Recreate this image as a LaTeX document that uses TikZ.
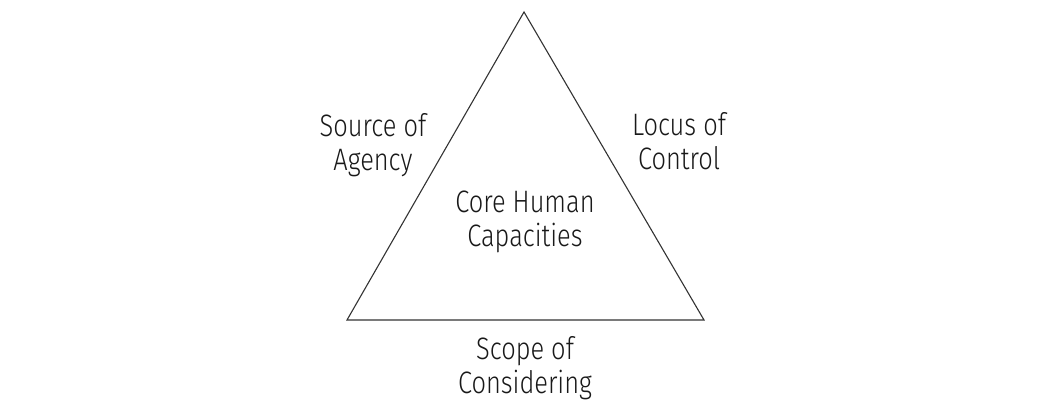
\documentclass[tikz,border=0pt]{standalone}
\usepackage{fontspec}
\setmainfont{Fira Sans Light}[FakeStretch=0.82]
\begin{document}
\begin{tikzpicture}[x=1pt,y=1pt,
  lbl/.style={align=center,inner sep=0pt,font=\fontsize{31}{34}\selectfont,anchor=base,text=black!90}]
\useasboundingbox[fill=white] (0,0) rectangle (1050,419);
\coordinate (top) at (524,407);
\coordinate (bl) at (347,99);
\coordinate (br) at (704,99);
\draw[line width=1.1pt,black!80,line join=miter] (top) -- (bl) -- (br) -- cycle;
\node[lbl] (core) at (525,172) {Core Human\\Capacities};
\node[lbl] (agency) at (373,248) {Source of\\Agency};
\node[lbl] (control) at (679,249) {Locus of\\Control};
\node[lbl] (scope) at (525,25) {Scope of\\Considering};
\end{tikzpicture}
\end{document}
